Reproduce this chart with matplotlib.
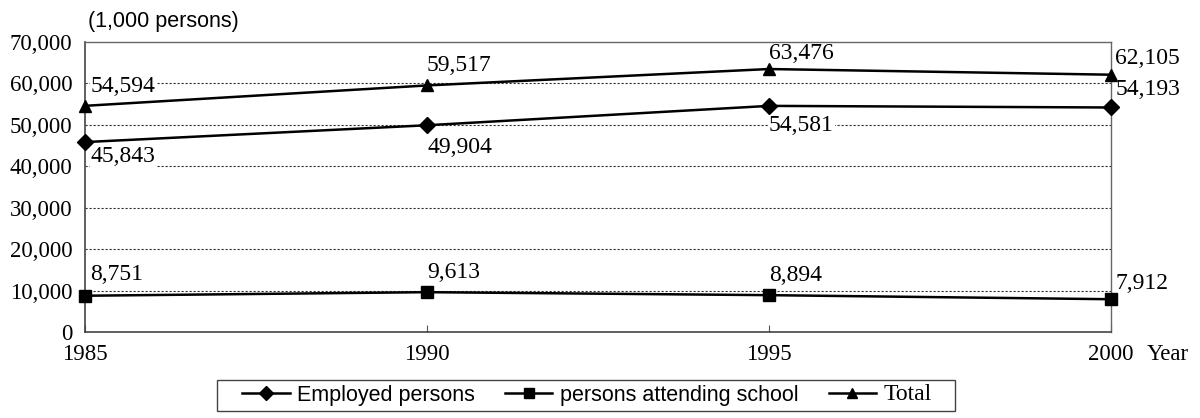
import matplotlib.pyplot as plt
from matplotlib.patches import Rectangle
from matplotlib.ticker import FuncFormatter

years = [1985, 1990, 1995, 2000]
employed = [45843, 49904, 54581, 54193]
school = [8751, 9613, 8894, 7912]
total = [54594, 59517, 63476, 62105]

SERIF = ['Liberation Serif', 'DejaVu Serif']
SANS = ['Liberation Sans', 'DejaVu Sans']
W, H = 1200, 418

fig = plt.figure(figsize=(12, 4.18), dpi=100)
ax = fig.add_axes([85 / W, 1 - 332 / H, (1111 - 85) / W, (332 - 42) / H])

l1, = ax.plot(years, employed, color='black', lw=1.8, marker='D', ms=8, zorder=3)
l2, = ax.plot(years, school, color='black', lw=1.8, marker='s', ms=9, zorder=3)
l3, = ax.plot(years, total, color='black', lw=1.8, marker='^', ms=9, zorder=3)
for ln in (l1, l2, l3):
    ln.set_clip_on(False)

ax.set_xlim(1985, 2000)
ax.set_ylim(0, 70000)
ax.set_xticks(years)
ax.set_yticks(range(0, 70001, 10000))
ax.yaxis.set_major_formatter(FuncFormatter(lambda v, p: f'{int(v):,}'))
for y in range(10000, 70000, 10000):
    ax.axhline(y, color='#333333', lw=0.8, ls=(0, (2, 1.6)), zorder=0)

ax.tick_params(axis='x', direction='in', length=5, color='#555555', pad=9)
ax.tick_params(axis='y', length=0, pad=9)
for lab in ax.get_xticklabels() + ax.get_yticklabels():
    lab.set_fontfamily(SERIF)
    lab.set_fontsize(16.5)
for side in ('left', 'bottom'):
    ax.spines[side].set_color('#444444')
    ax.spines[side].set_linewidth(1.2)
for side in ('top', 'right'):
    ax.spines[side].set_color('#666666')
    ax.spines[side].set_linewidth(1.0)

# value labels next to each point, offsets in points; white box hides the grid
def label(xs, ys, offs):
    for x, y, (dx, dy) in zip(xs, ys, offs):
        box = dict(fc='white', ec='none', pad=0.5) if x < 2000 else None
        ax.annotate(f'{y:,}', (x, y), xytext=(dx, dy), textcoords='offset points',
                    ha='left', va='center', fontsize=17, family=SERIF,
                    bbox=box, zorder=1.5, annotation_clip=False)

label(years, total, [(4, 14), (0, 14), (0, 11.5), (3, 12)])
label(years, employed, [(4, -10.5), (0, -16), (0, -14), (3, 13)])
label(years, school, [(4, 15), (0, 14), (0, 14), (3, 11.5)])

fig.text(88 / W, 1 - 22 / H, '(1,000 persons)', fontsize=15.5,
         family=SANS, va='center', ha='left')
fig.text(1147 / W, 1 - 354 / H, 'Year', fontsize=16.5, family=SERIF,
         va='center', ha='left')

leg = fig.legend([l1, l2, l3], ['Employed persons', 'persons attending school', 'Total'],
                 loc='center', bbox_to_anchor=(587 / W, 1 - 395 / H), ncol=3,
                 frameon=False, prop={'family': SANS, 'size': 15.5},
                 handlelength=2.2, handletextpad=0.35, columnspacing=1.4,
                 borderpad=0, borderaxespad=0)
for h in leg.legend_handles:
    h.set_markersize(7)
leg.get_texts()[2].set_fontfamily(SERIF)
leg.get_texts()[2].set_fontsize(17)

# legend box
fig.add_artist(Rectangle((217 / W, 1 - 411 / H), 738 / W, 31 / H,
                         transform=fig.transFigure, fill=False,
                         ec='#444444', lw=1.0))

fig.savefig('out.png', dpi=100)
